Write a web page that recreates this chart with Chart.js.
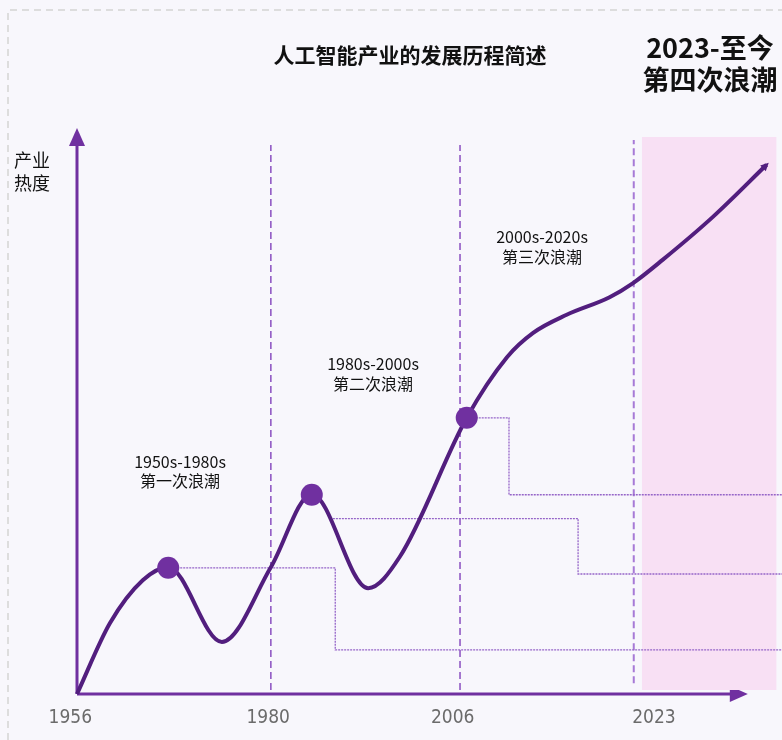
<!DOCTYPE html>
<html>
<head>
<meta charset="utf-8">
<script src="https://cdn.jsdelivr.net/npm/chart.js@4"></script>
<style>
  html, body { margin: 0; padding: 0; background: #f8f7fc; overflow: hidden; }
  #wrap { width: 782px; height: 740px; position: relative; }
  canvas { display: block; }
</style>
</head>
<body>
<div id="wrap"><canvas id="chart"></canvas></div>
<script>
// axis ticks (x in axis units, 0 = 1956 origin, 100 = arrow tip)
const years = ["1956", "1980", "2006", "2023"];
const yearLabelX = [-1.0, 28.5, 56.0, 86.0];
const boundaryX = [28.9, 57.1, 83.0]; // 1980, 2006, 2023 dashed lines

// industry heat curve
const curveX = [0, 4.9, 9.8, 13.6, 21.6, 28.9, 35.0, 43.4, 48.1, 58.1, 64.1, 68.0, 73.0, 79.4, 82.9, 87.3, 94.8, 102.8];
const curveY = [0, 12.5, 20.1, 22.4, 9.2, 22.4, 35.3, 18.7, 24.2, 48.8, 59.5, 63.8, 67.0, 70.1, 72.6, 76.7, 84.3, 93.5];

// wave markers
const peakX = [13.6, 35.0, 58.1];
const peakY = [22.3, 35.2, 48.8];
const waveNames = ["1950s-1980s", "1980s-2000s", "2000s-2020s"];
const waveTitles = ["第一次浪潮", "第二次浪潮", "第三次浪潮"];

// dotted step guides from each wave
const stepAX = [13.6, 38.5, 38.5, 105.1];
const stepAY = [22.3, 22.3, 7.8, 7.8];
const stepBX = [37.7, 74.7, 74.7, 105.1];
const stepBY = [31.0, 31.0, 21.2, 21.2];
const stepCX = [58.1, 64.4, 64.4, 105.1];
const stepCY = [48.8, 48.8, 35.2, 35.2];

// fourth wave band
const bandX = [84.2, 104.3];
const bandTop = 98.4;
const bandBottom = 0.7;

const pts = (xs, ys) => xs.map((x, i) => ({ x: x, y: ys[i] }));

const PURPLE = "#7030a0";

const decor = {
  id: "decor",
  beforeDraw(chart) {
    const c = chart.ctx;
    c.save();
    c.fillStyle = "#f8f7fc";
    c.fillRect(0, 0, chart.width, chart.height);
    c.strokeStyle = "#dddddd";
    c.lineWidth = 2;
    c.setLineDash([7, 5]);
    c.beginPath();
    c.moveTo(8, chart.height);
    c.lineTo(8, 10);
    c.lineTo(chart.width, 10);
    c.stroke();
    c.restore();
  },
  beforeDatasetsDraw(chart) {
    const c = chart.ctx;
    const xs = chart.scales.x, ys = chart.scales.y;
    const x0 = xs.getPixelForValue(0), y0 = ys.getPixelForValue(0);
    const xEnd = xs.getPixelForValue(100), yEnd = ys.getPixelForValue(100);
    c.save();
    c.strokeStyle = PURPLE;
    c.fillStyle = PURPLE;
    c.lineWidth = 3;
    c.beginPath();
    c.moveTo(x0, y0);
    c.lineTo(x0, yEnd + 14);
    c.moveTo(x0, y0);
    c.lineTo(xEnd - 14, y0);
    c.stroke();
    c.beginPath();
    c.moveTo(x0, yEnd);
    c.lineTo(x0 - 8, yEnd + 18);
    c.lineTo(x0 + 8, yEnd + 18);
    c.closePath();
    c.fill();
    c.beginPath();
    c.moveTo(xEnd, y0);
    c.lineTo(xEnd - 18, y0 - 8);
    c.lineTo(xEnd - 18, y0 + 8);
    c.closePath();
    c.fill();
    c.restore();
  },
  afterDatasetsDraw(chart) {
    const c = chart.ctx;
    const xs = chart.scales.x;
    c.save();
    c.textAlign = "center";
    c.textBaseline = "middle";

    // curve arrow head
    const meta = chart.getDatasetMeta(0).data;
    const a = meta[meta.length - 2], b = meta[meta.length - 1];
    const ang = Math.atan2(b.y - a.y, b.x - a.x);
    c.fillStyle = "#521e7e";
    c.beginPath();
    c.moveTo(b.x + 3 * Math.cos(ang), b.y + 3 * Math.sin(ang));
    c.lineTo(b.x - 5 * Math.cos(ang) - 4 * Math.sin(ang), b.y - 5 * Math.sin(ang) + 4 * Math.cos(ang));
    c.lineTo(b.x - 5 * Math.cos(ang) + 4 * Math.sin(ang), b.y - 5 * Math.sin(ang) - 4 * Math.cos(ang));
    c.closePath();
    c.fill();

    // year labels
    c.fillStyle = "#6b6b6b";
    c.font = "19px 'DejaVu Sans Condensed', 'Liberation Sans Narrow', sans-serif";
    years.forEach((t, i) => c.fillText(t, xs.getPixelForValue(yearLabelX[i]), 718));

    // titles
    c.fillStyle = "#111111";
    c.font = "bold 21px 'Noto Sans CJK SC', sans-serif";
    c.fillText("人工智能产业的发展历程简述", 410, 55);
    c.font = "bold 27px 'Noto Sans CJK SC', sans-serif";
    c.fillText("2023-至今", 710, 48);
    c.fillText("第四次浪潮", 710, 80);

    c.font = "18px 'Noto Sans CJK SC', sans-serif";
    c.fillText("产业", 32, 160);
    c.fillText("热度", 32, 183);

    // wave labels
    const wavePos = [[180, 462, 481], [373, 364, 384], [542, 237, 257]];
    c.font = "16px 'Noto Sans CJK SC', sans-serif";
    wavePos.forEach((p, i) => {
      c.fillText(waveNames[i], p[0], p[1]);
      c.fillText(waveTitles[i], p[0], p[2]);
    });
    c.restore();
  }
};

const stepStyle = {
  borderColor: "#9565c8",
  borderWidth: 1.3,
  borderDash: [2, 1],
  pointRadius: 0,
  fill: false,
  clip: false,
  order: 3,
};

const vlines = boundaryX.map((bx, i) => ({
  data: [{ x: bx, y: i === 2 ? 1.9 : 0.7 }, { x: bx, y: i === 2 ? 97.9 : 97 }],
  borderColor: i === 2 ? "#a77ad6" : "#8a4fc0",
  borderWidth: i === 2 ? 2 : 1.5,
  borderDash: [7, 4],
  pointRadius: 0,
  clip: false,
  order: 4,
}));

const ctx = document.getElementById("chart").getContext("2d");
new Chart(ctx, {
  type: "line",
  data: {
    datasets: [
      {
        data: pts(curveX, curveY),
        borderColor: "#521e7e",
        borderWidth: 4,
        cubicInterpolationMode: "monotone",
        pointRadius: 0,
        clip: false,
        order: 1,
      },
      {
        data: pts(peakX, peakY),
        showLine: false,
        pointRadius: 11,
        pointBackgroundColor: PURPLE,
        pointBorderWidth: 0,
        clip: false,
        order: 0,
      },
      Object.assign({ data: pts(stepAX, stepAY) }, stepStyle),
      Object.assign({ data: pts(stepBX, stepBY) }, stepStyle),
      Object.assign({ data: pts(stepCX, stepCY) }, stepStyle),
      ...vlines,
      {
        data: [{ x: bandX[0], y: bandTop }, { x: bandX[1], y: bandTop }],
        borderWidth: 0,
        pointRadius: 0,
        backgroundColor: "#f8e0f4",
        fill: { value: bandBottom },
        clip: false,
        order: 5,
      },
    ],
  },
  options: {
    responsive: true,
    maintainAspectRatio: false,
    animation: false,
    events: [],
    layout: { autoPadding: false, padding: { left: 77, right: 0, top: 128, bottom: 46 } },
    plugins: { legend: { display: false }, tooltip: { enabled: false } },
    scales: {
      x: { type: "linear", min: 0, max: 105.1, display: false },
      y: { min: 0, max: 100, display: false },
    },
  },
  plugins: [decor],
});
</script>
</body>
</html>
